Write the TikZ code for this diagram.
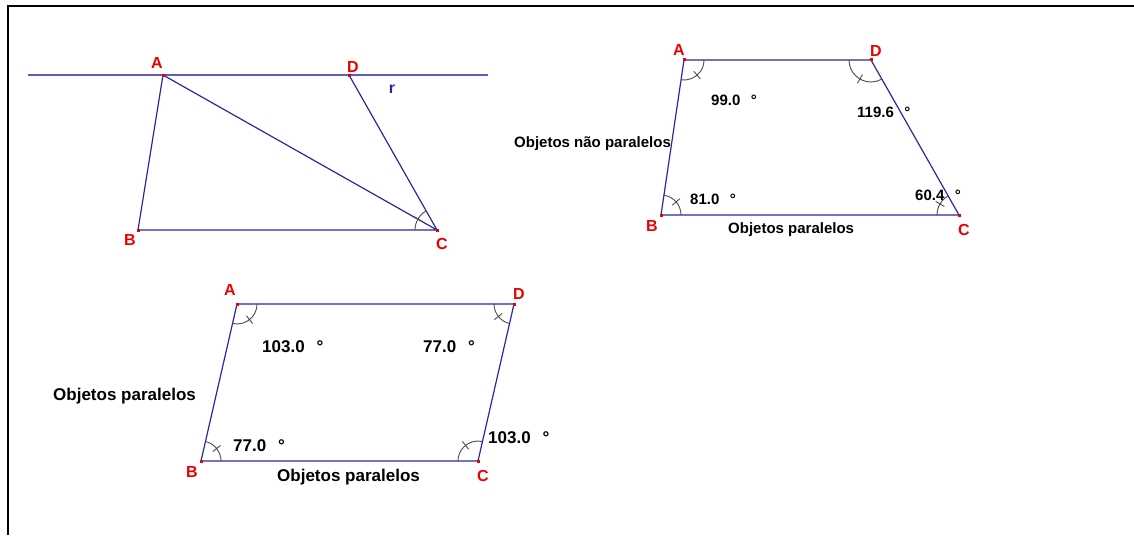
\documentclass[tikz,border=0pt]{standalone}
\usepackage{fontspec}
\setmainfont{Liberation Sans}
\usetikzlibrary{calc}

\definecolor{lineblue}{RGB}{40,40,165}
\definecolor{ptred}{RGB}{235,0,0}

% angle mark: arc counterclockwise from ray #3->#2 to ray #3->#4, with a tick
\newcommand\anglemark[4][20]{%
  \draw[ang] let \p1=($(#2)-(#3)$), \p2=($(#4)-(#3)$),
    \n1={atan2(\y1,\x1)}, \n2={atan2(\y2,\x2)},
    \n3={\n2+360*(\n2<\n1)}, \n4={(\n1+\n3)/2} in
    ($(#3)+(\n1:#1)$) arc[start angle=\n1, end angle=\n3, radius=#1]
    ($(#3)+(\n4:#1-5)$) -- ($(#3)+(\n4:#1+5)$);}
\newcommand\graus[1]{#1\hspace{0.7em}°}

\begin{document}
\begin{tikzpicture}[
  x=1pt, y=1pt,
  seg/.style={draw=lineblue, line width=1.2pt},
  ang/.style={draw=black!70, line width=0.9pt},
  pt/.style={rectangle, fill=ptred, inner sep=0pt, minimum size=3pt},
  lbl/.style={text=ptred, inner sep=0pt, font=\bfseries\fontsize{16}{16}\selectfont},
  val/.style={anchor=base west, inner sep=0pt, font=\bfseries\fontsize{15}{15}\selectfont},
  valbig/.style={val, font=\bfseries\fontsize{17}{17}\selectfont}
]
\useasboundingbox (0,0) rectangle (1134,-535);
\draw[line width=2pt] (8,-535) -- (8,-6) -- (1134,-6);

% first figure
\coordinate (r1) at (28,-75);
\coordinate (r2) at (488,-75);
\coordinate (A1) at (163,-75);
\coordinate (D1) at (349,-75);
\coordinate (B1) at (138,-230);
\coordinate (C1) at (437,-230);
\draw[seg, draw=lineblue!75] (r1) -- (r2);
\draw[seg] (A1) -- (B1) -- (C1) -- (A1);
\draw[seg] (D1) -- (C1);
\anglemark[22]{D1}{C1}{B1}
\node[lbl] (lA1) at (157,-63) {A};
\node[lbl] (lD1) at (353,-67) {D};
\node[lbl] (lB1) at (130,-240) {B};
\node[lbl] (lC1) at (442,-244) {C};
\node[lbl, text=lineblue] (lr) at (392,-89) {r};

% second figure
\coordinate (A2) at (684,-60);
\coordinate (D2) at (871,-60);
\coordinate (B2) at (661,-215);
\coordinate (C2) at (959,-215);
\draw[seg] (A2) -- (D2) -- (C2) -- (B2) -- cycle;
\anglemark[20]{B2}{A2}{D2}
\anglemark[22]{A2}{D2}{C2}
\anglemark[20]{C2}{B2}{A2}
\anglemark[22]{D2}{C2}{B2}
\node[lbl] (lA2) at (679,-50) {A};
\node[lbl] (lD2) at (876,-51) {D};
\node[lbl] (lB2) at (652,-226) {B};
\node[lbl] (lC2) at (964,-230) {C};
\node[val] (a99) at (711,-105) {\graus{99.0}};
\node[val] (a119) at (857,-117) {\graus{119.6}};
\node[val] (a81) at (690,-204) {\graus{81.0}};
\node[val] (a60) at (915,-200) {\graus{60.4}};
\node[val] (np) at (514,-147) {Objetos não paralelos};
\node[val] (p2) at (728,-233) {Objetos paralelos};

% third figure
\coordinate (A3) at (237,-304);
\coordinate (D3) at (514,-304);
\coordinate (B3) at (201,-461);
\coordinate (C3) at (478,-461);
\draw[seg] (A3) -- (D3) -- (C3) -- (B3) -- cycle;
\anglemark[20]{B3}{A3}{D3}
\anglemark[20]{A3}{D3}{C3}
\anglemark[20]{C3}{B3}{A3}
\anglemark[20]{D3}{C3}{B3}
\node[lbl] (lA3) at (230,-290) {A};
\node[lbl] (lD3) at (519,-294) {D};
\node[lbl] (lB3) at (192,-472) {B};
\node[lbl] (lC3) at (483,-476) {C};
\node[valbig] (a103t) at (262,-352) {\graus{103.0}};
\node[valbig] (a77t) at (423,-352) {\graus{77.0}};
\node[valbig] (a77b) at (233,-451) {\graus{77.0}};
\node[valbig] (a103b) at (488,-443) {\graus{103.0}};
\node[valbig] (p3a) at (53,-400) {Objetos paralelos};
\node[valbig] (p3b) at (277,-481) {Objetos paralelos};

\foreach \v in {A1,D1,B1,C1,A2,D2,B2,C2,A3,D3,B3,C3}
  \node[pt] at (\v) {};
\end{tikzpicture}
\end{document}
